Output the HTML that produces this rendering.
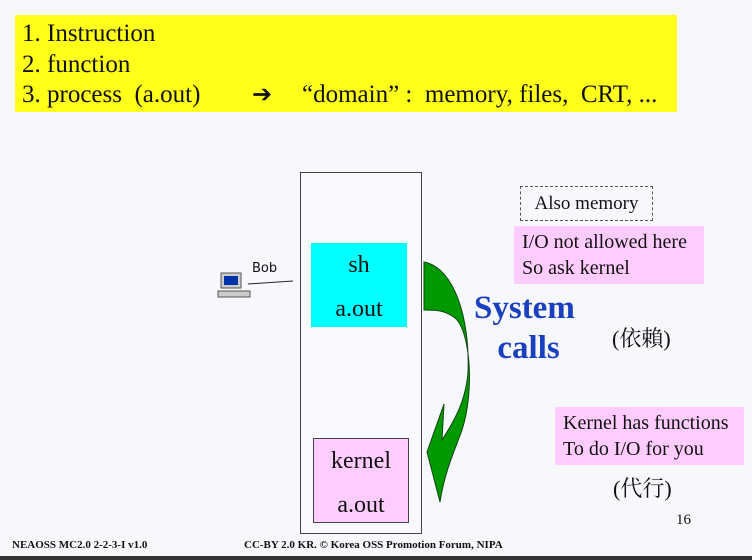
<!DOCTYPE html>
<html><head><meta charset="utf-8"><style>
body{margin:0;width:752px;height:560px;background:#f7f8fc;position:relative;overflow:hidden;font-family:"Liberation Serif","Noto Serif CJK SC",serif;color:#111}
.a{position:absolute;white-space:nowrap}
</style></head><body>
<div class="a" style="left:15px;top:15px;width:662px;height:97px;background:#ffff1a"></div>
<div class="a" style="left:22px;top:19px;font-size:25px;line-height:30.5px">1. Instruction<br>2. function<br>3. process&nbsp; (a.out)</div>
<div class="a" style="left:252px;top:80px;font-size:24px;line-height:30px">➔</div>
<div class="a" style="left:302px;top:80px;font-size:25px;line-height:30px">“domain” :&nbsp; memory, files,&nbsp; CRT, ...</div>

<div class="a" style="left:300px;top:172px;width:120px;height:360px;border:1px solid #444;background:#f8f9fd"></div>
<div class="a" style="left:311px;top:243px;width:96px;height:84px;background:#00ffff;text-align:center;font-size:24px;line-height:44px">sh<br>a.out</div>
<div class="a" style="left:313px;top:438px;width:94px;height:83px;background:#ffccff;border:1px solid #444;text-align:center;font-size:24px;line-height:44px">kernel<br>a.out</div>

<svg class="a" style="left:0;top:0" width="752" height="560">
<path d="M424 262 C455 268 470 320 468 372 C466 400 455 420 442 440 L444 404 L427 452 L440 502 C445 470 455 450 462 430 C475 390 470 330 455 318 C445 310 435 310 424 310 Z" fill="#009900" stroke="#114411" stroke-width="1"/>
<line x1="248" y1="284" x2="293" y2="281" stroke="#222" stroke-width="1"/>
<rect x="221" y="273" width="20" height="15" fill="#ccc" stroke="#555"/>
<rect x="224" y="276" width="14" height="9" fill="#0033aa"/>
<rect x="218" y="291" width="32" height="6" fill="#ccc" stroke="#555"/>
</svg>
<div class="a" style="left:252px;top:261px;font-family:'DejaVu Sans',sans-serif;font-size:13px">Bob</div>

<div class="a" style="left:474px;top:288px;font-size:33px;font-weight:bold;color:#1a3fbf;line-height:40px;text-align:center">System<br>&nbsp;calls</div>
<div class="a" style="left:520px;top:186px;width:131px;height:33px;border:1px dashed #555;font-size:19px;line-height:33px;text-align:center">Also memory</div>
<div class="a" style="left:514px;top:226px;width:190px;height:58px;background:#ffccff;font-size:20px;line-height:26px;padding:3px 8px;box-sizing:border-box">I/O not allowed here<br>So ask kernel</div>
<div class="a" style="left:612px;top:322px;font-size:22px">(依賴)</div>
<div class="a" style="left:555px;top:407px;width:189px;height:58px;background:#ffccff;font-size:20px;line-height:26px;padding:3px 8px;box-sizing:border-box">Kernel has functions<br>To do I/O for you</div>
<div class="a" style="left:613px;top:472px;font-size:22px">(代行)</div>
<div class="a" style="left:676px;top:512px;font-size:15px">16</div>
<div class="a" style="left:12px;top:539px;font-size:11px;font-weight:bold">NEAOSS MC2.0 2-2-3-I v1.0</div>
<div class="a" style="left:244px;top:539px;font-size:11px;font-weight:bold">CC-BY 2.0 KR. © Korea OSS Promotion Forum, NIPA</div>
<div class="a" style="left:0;top:556px;width:752px;height:4px;background:#333"></div>
</body></html>
